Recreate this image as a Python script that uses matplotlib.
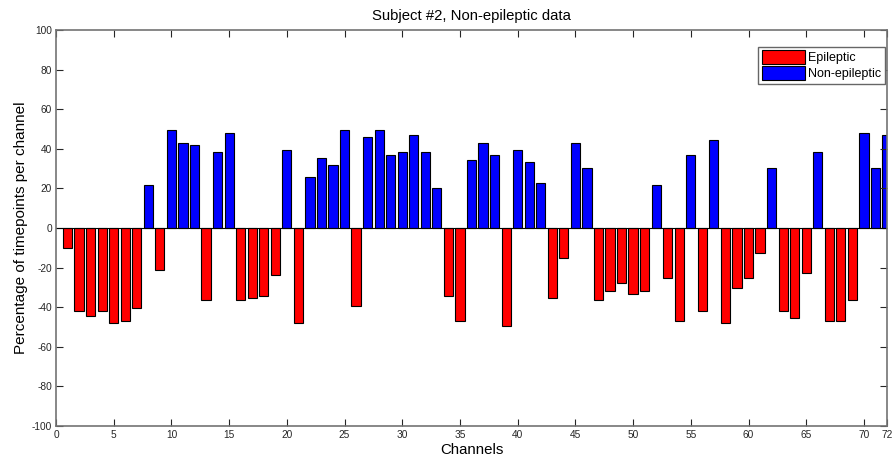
import matplotlib.pyplot as plt
import numpy as np

plt.rcParams['font.family'] = ['Liberation Sans', 'DejaVu Sans']
plt.rcParams['axes.unicode_minus'] = False

# percentage of timepoints per channel (negative = epileptic, positive = non-epileptic)
channels = np.arange(1, 73)
percent = [
    -10.1, -41.8, -44.4, -41.8, -48.2, -47.0, -40.5, 21.6, -21.4, 49.6,
    43.0, 42.0, -36.6, 38.3, 48.2, -36.6, -35.4, -34.2, -23.8, 39.5,
    -48.2, 25.6, 35.6, 31.9, 49.6, -39.6, 45.9, 49.6, 36.8, 38.3,
    47.0, 38.3, 20.4, -34.2, -47.0, 34.4, 43.0, 36.8, -49.4, 39.5,
    33.1, 22.8, -35.4, -15.2, 43.0, 30.5, -36.6, -31.9, -28.0, -33.1,
    -31.9, 21.6, -25.5, -47.0, 36.8, -41.8, 44.4, -48.2, -30.4, -25.5,
    -12.6, 30.5, -41.8, -45.7, -22.8, 38.3, -47.0, -47.0, -36.6, 48.2,
    30.5, 47.0,
]
labels = ["Epileptic", "Non-epileptic"]
xticks = [0, 5, 10, 15, 20, 25, 30, 35, 40, 45, 50, 55, 60, 65, 70, 72]
yticks = np.arange(-100, 101, 20)

percent = np.array(percent)
epi = percent < 0

fig = plt.figure(figsize=(8.94, 4.58), dpi=100)
ax = fig.add_axes([56 / 894, 32 / 458, 831 / 894, 396 / 458])

ax.bar(channels[epi], percent[epi], width=0.8, color="#ff0000",
       edgecolor="black", linewidth=0.8, label=labels[0])
ax.bar(channels[~epi], percent[~epi], width=0.8, color="#0000ff",
       edgecolor="black", linewidth=0.8, label=labels[1])
ax.axhline(0, color="black", linewidth=0.8)

ax.set_xlim(0, 72)
ax.set_ylim(-100, 100)
ax.set_xticks(xticks)
ax.set_yticks(yticks)
ax.tick_params(direction="in", top=True, right=True, length=5, width=0.8,
               labelsize=7.3, colors="0.15", pad=3)
for s in ax.spines.values():
    s.set_color("0.45")
    s.set_linewidth(1.2)

ax.set_title("Subject #2, Non-epileptic data", fontsize=10.7, pad=7)
ax.set_xlabel("Channels", fontsize=10.8)
ax.set_ylabel("Percentage of timepoints per channel", fontsize=11)
ax.yaxis.set_label_coords(-0.034, 0.5)
ax.xaxis.set_label_coords(0.5, -0.042)

leg = ax.legend(loc="upper right", bbox_to_anchor=(0.998, 0.958),
                borderaxespad=0, fontsize=9, fancybox=False, framealpha=1,
                edgecolor="0.4", handlelength=3.4, handleheight=1.3,
                borderpad=0.3, labelspacing=0.12, handletextpad=0.3)
leg.get_frame().set_linewidth(1.0)

fig.savefig("out.png", dpi=100)
